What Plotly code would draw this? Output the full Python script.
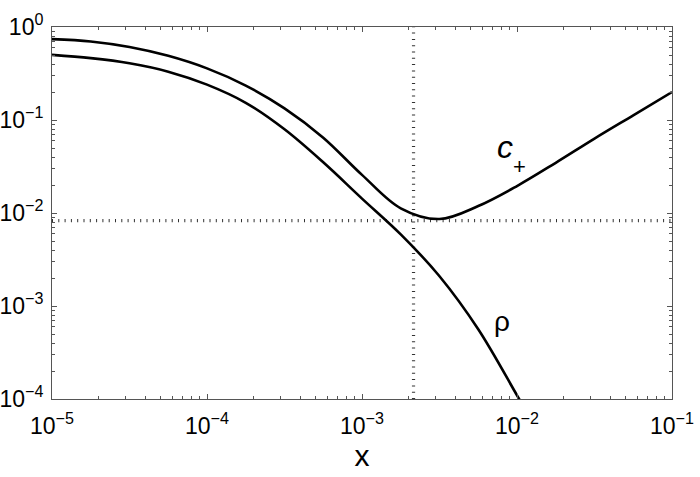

# imports
import numpy as np
import plotly.graph_objects as go

# data (log10 values every quarter decade)
cplus_logx = [-5.0, -4.75, -4.5, -4.25, -4.0, -3.75, -3.5, -3.25, -3.0, -2.75,
              -2.5, -2.25, -2.0, -1.75, -1.5, -1.25, -1.0]
cplus_logy = [-0.13, -0.155, -0.215, -0.31, -0.445, -0.63, -0.875, -1.19, -1.59, -1.95,
              -2.065, -1.925, -1.71, -1.46, -1.20, -0.95, -0.70]

rho_logx = [-5.0, -4.75, -4.5, -4.25, -4.0, -3.75, -3.5, -3.25, -3.0, -2.75,
            -2.5, -2.25, -2.0, -1.9]
rho_logy = [-0.30, -0.335, -0.39, -0.48, -0.62, -0.815, -1.10, -1.455, -1.845, -2.23,
            -2.68, -3.25, -3.96, -4.25]

# dotted reference lines
vline_x = 2.15e-3
hline_y = 8.3e-3
x_range = [1e-5, 1e-1]
y_range = [1e-4, 1e0]

# ticks
x_major = [1e-5, 1e-4, 1e-3, 1e-2, 1e-1]
x_labels = ["10<sup>−5</sup>", "10<sup>−4</sup>", "10<sup>−3</sup>", "10<sup>−2</sup>", "10<sup>−1</sup>"]
y_major = [1e-4, 1e-3, 1e-2, 1e-1, 1e0]
y_labels = ["10<sup>−4</sup>", "10<sup>−3</sup>", "10<sup>−2</sup>", "10<sup>−1</sup>", "10<sup>0</sup>"]
minor_x = [m * 10.0 ** e for e in range(-5, -1) for m in range(2, 10)]
minor_y = [m * 10.0 ** e for e in range(-4, 0) for m in range(2, 10)]

fig = go.Figure()

dot = dict(color="#333333", width=3.2, dash="1px,5.3px")
fig.add_trace(go.Scatter(x=[vline_x, vline_x], y=y_range, mode="lines", line=dot))
fig.add_trace(go.Scatter(x=x_range, y=[hline_y, hline_y], mode="lines", line=dot))
fig.add_trace(go.Scatter(x=10 ** np.array(cplus_logx), y=10 ** np.array(cplus_logy), mode="lines",
                         line=dict(color="black", width=2.6, shape="spline", smoothing=1.0)))
fig.add_trace(go.Scatter(x=10 ** np.array(rho_logx), y=10 ** np.array(rho_logy), mode="lines",
                         line=dict(color="black", width=2.6, shape="spline", smoothing=1.0)))

axcol = "#555555"
axis_style = dict(
    type="log", tickmode="array", showgrid=False, zeroline=False, automargin=False,
    showline=True, linecolor=axcol, linewidth=1, mirror="allticks",
    ticks="inside", ticklen=5, tickcolor=axcol, tickwidth=1,
    tickfont=dict(family="Liberation Sans", size=23, color="black"),
)

fig.update_xaxes(**axis_style, range=[np.log10(x_range[0]), np.log10(x_range[1])],
                 tickvals=x_major, ticktext=x_labels, ticklabelstandoff=6,
                 minor=dict(ticks="inside", ticklen=3, tickcolor=axcol, tickvals=minor_x, showgrid=False),
                 title=dict(text="x", font=dict(family="Liberation Sans", size=30, color="black"),
                            standoff=2))
fig.update_yaxes(**axis_style, range=[np.log10(y_range[0]), np.log10(y_range[1])],
                 tickvals=y_major, ticktext=y_labels, ticklabelstandoff=3,
                 minor=dict(ticks="inside", ticklen=3, tickcolor=axcol, tickvals=minor_y, showgrid=False))

# curve labels
lab = dict(family="Liberation Sans", color="black")
fig.add_annotation(x=-2.08, y=-1.29, text="<i>c</i>", showarrow=False, font=dict(size=32, **lab))
fig.add_annotation(x=-1.984, y=-1.5, text="+", showarrow=False, font=dict(size=22, **lab))
fig.add_annotation(x=-2.10, y=-3.17, text="ρ", showarrow=False, font=dict(size=28, **lab))

fig.update_layout(width=700, height=477, showlegend=False,
                  plot_bgcolor="#FFFFFF", paper_bgcolor="#FFFFFF",
                  margin=dict(l=52, r=28, t=27, b=78))

# no page margin, so the figure sits at the window corner
fig.write_html("out.html", config={"displayModeBar": False},
               post_script="document.body.style.margin='0';")
